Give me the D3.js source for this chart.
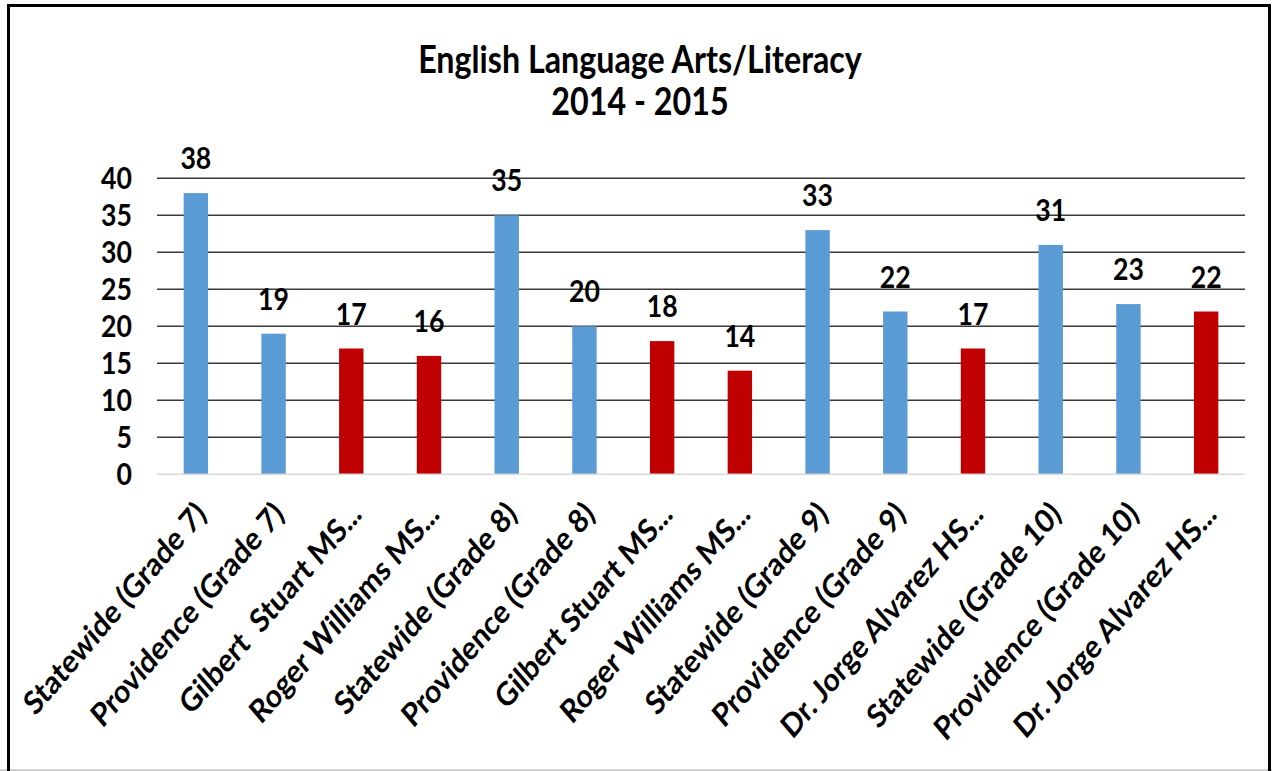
<!DOCTYPE html>
<html>
<head>
<meta charset="utf-8">
<script src="https://cdn.jsdelivr.net/npm/d3@7/dist/d3.min.js"></script>
<style>
  body { margin: 0; background: #fff; }
  text { font-family: Lato, "Open Sans", sans-serif; font-weight: bold; fill: #000; white-space: pre; }
</style>
</head>
<body>
<div id="chart"></div>
<script>
// Chart data
var categories = [
  "Statewide (Grade 7)", "Providence (Grade 7)", "Gilbert  Stuart MS...", "Roger Williams MS...",
  "Statewide (Grade 8)", "Providence (Grade 8)", "Gilbert Stuart MS...", "Roger Williams MS...",
  "Statewide (Grade 9)", "Providence (Grade 9)", "Dr. Jorge Alvarez HS...",
  "Statewide (Grade 10)", "Providence (Grade 10)", "Dr. Jorge Alvarez HS..."
];
var values = [38, 19, 17, 16, 35, 20, 18, 14, 33, 22, 17, 31, 23, 22];
var kinds = ["state", "district", "school", "school", "state", "district", "school", "school",
             "state", "district", "school", "state", "district", "school"];
var yTicks = [0, 5, 10, 15, 20, 25, 30, 35, 40];
var titleLines = ["English Language Arts/Literacy", "2014 - 2015"];

var width = 1272;
var height = 771;

// the source picture is squeezed sideways, so text gets the same squeeze
var squeeze = 0.86;

var plotLeft = 157;
var plotRight = 1245;
var plotTop = 178.3;
var plotBottom = 474.3;

var colorOf = { state: "#5b9bd5", district: "#5b9bd5", school: "#c00000" };

var svg = d3.select("#chart")
  .append("svg")
  .attr("width", width)
  .attr("height", height);

svg.append("rect")
  .attr("width", width)
  .attr("height", height)
  .attr("fill", "#fff");

// outer frame
svg.append("line").attr("x1", 0).attr("x2", width).attr("y1", 770).attr("y2", 770)
  .attr("stroke", "#d0d0d0").attr("stroke-width", 2);
svg.append("path")
  .attr("d", "M8.5,771 L8.5,5.5 L1269.5,5.5 L1269.5,771")
  .attr("fill", "none")
  .attr("stroke", "#000")
  .attr("stroke-width", 3);

// Scales
var xScale = d3.scaleBand()
  .domain(d3.range(categories.length))
  .range([plotLeft, plotRight])
  .paddingInner(0.686)
  .paddingOuter(0.343);

var yScale = d3.scaleLinear()
  .domain([0, 40])
  .range([plotBottom, plotTop]);

// Title
svg.selectAll(".title")
  .data(titleLines)
  .enter()
  .append("text")
  .attr("class", "title")
  .attr("text-anchor", "middle")
  .attr("font-size", 37.5)
  .attr("transform", function(d, i) {
    return "translate(640," + (73 + i * 42) + ") scale(" + squeeze + ",1)";
  })
  .text(function(d) { return d; });

// Gridlines
svg.append("g")
  .selectAll("line")
  .data(yTicks.filter(function(t) { return t > 0; }))
  .enter()
  .append("line")
  .attr("x1", plotLeft)
  .attr("x2", plotRight)
  .attr("y1", function(d) { return yScale(d); })
  .attr("y2", function(d) { return yScale(d); })
  .attr("stroke", "#3a3a3a")
  .attr("stroke-width", 1.5);

// Y axis labels
svg.append("g")
  .selectAll("text")
  .data(yTicks)
  .enter()
  .append("text")
  .attr("text-anchor", "end")
  .attr("font-size", 31)
  .attr("transform", function(d) {
    return "translate(132," + (yScale(d) + 11) + ") scale(" + squeeze + ",1)";
  })
  .text(function(d) { return d; });

// Bars
svg.append("g")
  .selectAll("rect")
  .data(values)
  .enter()
  .append("rect")
  .attr("x", function(d, i) { return xScale(i); })
  .attr("y", function(d) { return yScale(d); })
  .attr("width", xScale.bandwidth())
  .attr("height", function(d) { return yScale(0) - yScale(d); })
  .attr("fill", function(d, i) { return colorOf[kinds[i]]; });

// Baseline
svg.append("line")
  .attr("x1", plotLeft)
  .attr("x2", plotRight)
  .attr("y1", yScale(0))
  .attr("y2", yScale(0))
  .attr("stroke", "#d9d9d9")
  .attr("stroke-width", 1.5);

// Value labels
svg.append("g")
  .selectAll("text")
  .data(values)
  .enter()
  .append("text")
  .attr("text-anchor", "middle")
  .attr("font-size", 31)
  .attr("transform", function(d, i) {
    var cx = xScale(i) + xScale.bandwidth() / 2;
    return "translate(" + cx + "," + (yScale(d) - 24) + ") scale(" + squeeze + ",1)";
  })
  .text(function(d) { return d; });

// Category labels
svg.append("g")
  .selectAll("text")
  .data(categories)
  .enter()
  .append("text")
  .attr("text-anchor", "end")
  .attr("font-size", 32.5)
  .attr("transform", function(d, i) {
    var cx = xScale(i) + xScale.bandwidth() / 2;
    return "translate(" + (cx + 12) + ",516) scale(" + squeeze + ",1) rotate(-45)";
  })
  .text(function(d) { return d; });
</script>
</body>
</html>
